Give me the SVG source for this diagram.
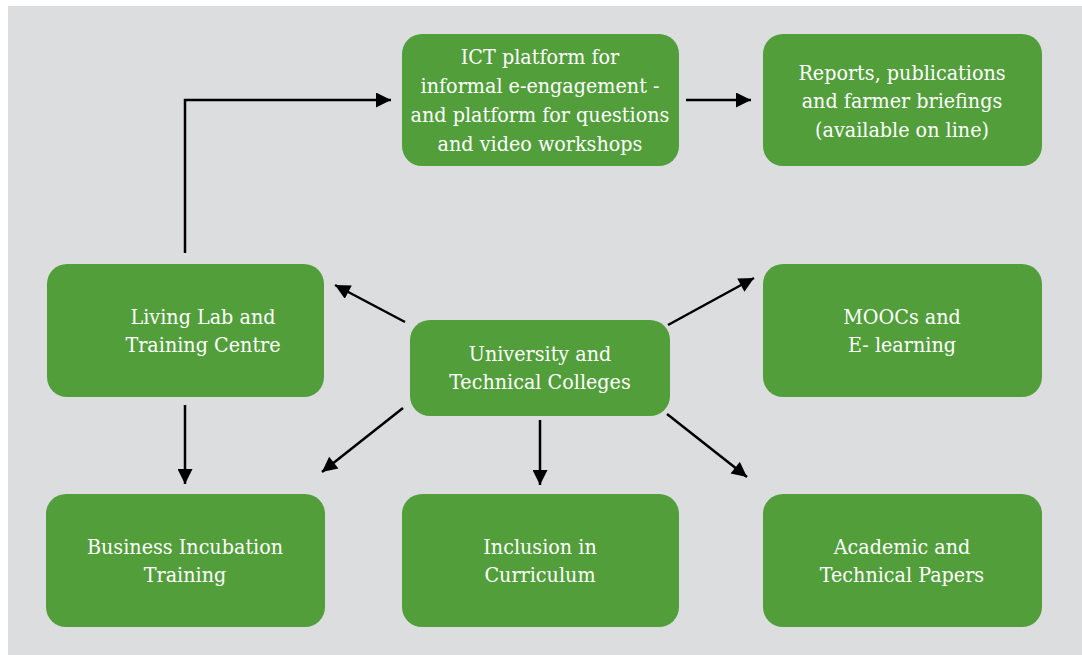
<svg xmlns="http://www.w3.org/2000/svg" width="1082" height="655" viewBox="0 0 1082 655">
  <style>
    .box { fill: #529E3B; }
    .lbl { fill: #ffffff; font-family: "DejaVu Serif Condensed", "DejaVu Serif", "Liberation Serif", serif; font-stretch: condensed; font-size: 21.3px; text-anchor: middle; }
    .conn { stroke: #000000; stroke-width: 2.5; fill: none; marker-end: url(#arrow); }
  </style>
  <defs>
    <marker id="arrow" viewBox="0 0 10 10" refX="10" refY="5" markerUnits="userSpaceOnUse" markerWidth="17" markerHeight="15" orient="auto">
      <path d="M0,0 L10,5 L0,10 Z" fill="#000000"/>
    </marker>
  </defs>

  <rect x="0" y="0" width="1082" height="655" fill="#ffffff"/>
  <rect x="8" y="6" width="1074" height="649" fill="#DCDDDF"/>

  <g id="connectors">
    <path class="conn" d="M185,253 L185,100 L391,100"/>
    <path class="conn" d="M686,100 L751,100"/>
    <path class="conn" d="M405,322 L335,285"/>
    <path class="conn" d="M668,325 L754,278"/>
    <path class="conn" d="M403,408 L322,472"/>
    <path class="conn" d="M540,420 L540,485"/>
    <path class="conn" d="M667,414 L747,477"/>
    <path class="conn" d="M185,405 L185,484"/>
  </g>

  <g id="ict">
    <rect class="box" x="402" y="34" width="277" height="132" rx="20"/>
    <text class="lbl" x="540" y="64">ICT platform for</text>
    <text class="lbl" x="540" y="93">informal e-engagement -</text>
    <text class="lbl" x="540" y="122">and platform for questions</text>
    <text class="lbl" x="540" y="151">and video workshops</text>
  </g>

  <g id="reports">
    <rect class="box" x="763" y="34" width="279" height="132" rx="20"/>
    <text class="lbl" x="902" y="80">Reports, publications</text>
    <text class="lbl" x="902" y="108">and farmer briefings</text>
    <text class="lbl" x="902" y="137">(available on line)</text>
  </g>

  <g id="living-lab">
    <rect class="box" x="47" y="264" width="277" height="133" rx="20"/>
    <text class="lbl" x="203" y="324">Living Lab and</text>
    <text class="lbl" x="203" y="352">Training Centre</text>
  </g>

  <g id="university">
    <rect class="box" x="410" y="320" width="260" height="96" rx="20"/>
    <text class="lbl" x="540" y="361">University and</text>
    <text class="lbl" x="540" y="389">Technical Colleges</text>
  </g>

  <g id="moocs">
    <rect class="box" x="763" y="264" width="279" height="133" rx="20"/>
    <text class="lbl" x="902" y="324">MOOCs and</text>
    <text class="lbl" x="902" y="352">E- learning</text>
  </g>

  <g id="business">
    <rect class="box" x="46" y="494" width="279" height="133" rx="20"/>
    <text class="lbl" x="185" y="554">Business Incubation</text>
    <text class="lbl" x="185" y="582">Training</text>
  </g>

  <g id="inclusion">
    <rect class="box" x="402" y="494" width="277" height="133" rx="20"/>
    <text class="lbl" x="540" y="554">Inclusion in</text>
    <text class="lbl" x="540" y="582">Curriculum</text>
  </g>

  <g id="academic">
    <rect class="box" x="763" y="494" width="279" height="133" rx="20"/>
    <text class="lbl" x="902" y="554">Academic and</text>
    <text class="lbl" x="902" y="582">Technical Papers</text>
  </g>
</svg>
